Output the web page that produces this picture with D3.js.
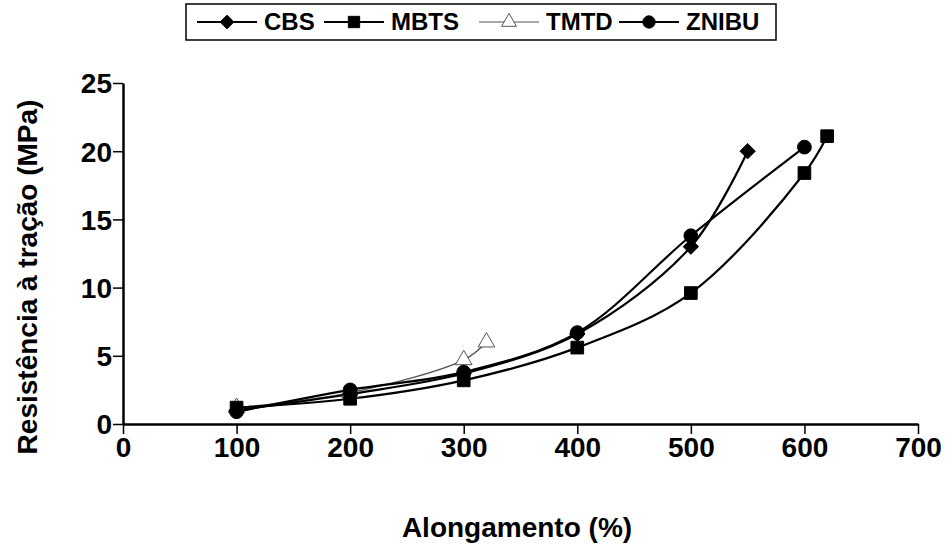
<!DOCTYPE html>
<html>
<head>
<meta charset="utf-8">
<script src="https://cdn.jsdelivr.net/npm/d3@7"></script>
<style>
  body { margin: 0; background: #fff; }
  text { font-family: "Liberation Sans", Arial, sans-serif; font-weight: bold; fill: #000; }
</style>
</head>
<body>
<div id="chart"></div>
<script>
// data
var seriesNames = ["CBS", "MBTS", "TMTD", "ZNIBU"];
var cbsX = [100, 200, 300, 400, 500, 550];
var cbsY = [1.0, 2.2, 3.7, 6.6, 13.0, 20.0];
var mbtsX = [100, 200, 300, 400, 500, 600, 620];
var mbtsY = [1.2, 1.85, 3.2, 5.6, 9.6, 18.4, 21.1];
var tmtdX = [100, 200, 300, 320];
var tmtdY = [1.2, 2.3, 4.7, 6.0];
var znibuX = [100, 200, 300, 400, 500, 600];
var znibuY = [0.9, 2.5, 3.8, 6.7, 13.8, 20.3];
var xTicks = [0, 100, 200, 300, 400, 500, 600, 700];
var yTicks = [0, 5, 10, 15, 20, 25];

function zip(xs, ys) { return xs.map(function(x, i) { return {x: x, y: ys[i]}; }); }

var series = [
  {name: seriesNames[0], pts: zip(cbsX, cbsY), sym: d3.symbolDiamond2, size: 150, fill: "#000", lw: 2.2, stroke: "#000"},
  {name: seriesNames[1], pts: zip(mbtsX, mbtsY), sym: d3.symbolSquare, size: 160, fill: "#000", lw: 2.2, stroke: "#000"},
  {name: seriesNames[2], pts: zip(tmtdX, tmtdY), sym: d3.symbolTriangle, size: 120, fill: "#fff", lw: 1.4, stroke: "#555"},
  {name: seriesNames[3], pts: zip(znibuX, znibuY), sym: d3.symbolCircle, size: 150, fill: "#000", lw: 2.2, stroke: "#000"}
];

var W = 949, H = 555;
var margin = {top: 83, right: 31, bottom: 131, left: 123};
var width = W - margin.left - margin.right,
    height = H - margin.top - margin.bottom;

var svg = d3.select("#chart").append("svg")
  .attr("width", W).attr("height", H);

var g = svg.append("g")
  .attr("transform", "translate(" + margin.left + "," + margin.top + ")");

var x = d3.scaleLinear().domain([0, 700]).range([0, width]);
var y = d3.scaleLinear().domain([0, 25]).range([height, 0]);

var xAxis = g.append("g")
  .attr("transform", "translate(0," + height + ")")
  .call(d3.axisBottom(x).tickValues(xTicks).tickSize(10).tickSizeOuter(0));
var yAxis = g.append("g")
  .call(d3.axisLeft(y).tickValues(yTicks).tickSize(10).tickSizeOuter(0));

[xAxis, yAxis].forEach(function(a) {
  a.attr("font-size", null).attr("font-family", null);
  a.select(".domain").attr("stroke", "#000").attr("stroke-width", 2.5);
  a.selectAll(".tick line").attr("stroke", "#000").attr("stroke-width", 1.5);
  a.selectAll(".tick text").attr("fill", "#000").style("font-size", "28px");
});
xAxis.selectAll(".tick text").attr("y", 13).attr("dy", "0.71em");
yAxis.selectAll(".tick text").attr("x", -11).attr("dy", "0.35em");

var line = d3.line()
  .x(function(d) { return x(d.x); })
  .y(function(d) { return y(d.y); })
  .curve(d3.curveCatmullRom.alpha(0.5));

var order = [2, 0, 3, 1];
order.forEach(function(i) {
  var s = series[i];
  g.append("path")
    .datum(s.pts)
    .attr("fill", "none")
    .attr("stroke", s.stroke)
    .attr("stroke-width", s.lw)
    .attr("d", line);
});
order.forEach(function(i) {
  var s = series[i];
  g.selectAll(".m" + i)
    .data(s.pts)
    .enter().append("path")
    .attr("class", "m" + i)
    .attr("transform", function(d) { return "translate(" + x(d.x) + "," + y(d.y) + ")"; })
    .attr("d", d3.symbol().type(s.sym).size(s.size))
    .attr("fill", s.fill)
    .attr("stroke", s.stroke)
    .attr("stroke-width", 1);
});

// axis titles
svg.append("text")
  .attr("x", 517).attr("y", 537)
  .attr("text-anchor", "middle")
  .style("font-size", "28px")
  .text("Alongamento (%)");
svg.append("text")
  .attr("transform", "translate(37,277) rotate(-90)")
  .attr("text-anchor", "middle")
  .style("font-size", "28px")
  .text("Resistência à tração (MPa)");

// legend
var lg = svg.append("g");
lg.append("rect")
  .attr("x", 186).attr("y", 4).attr("width", 590).attr("height", 36)
  .attr("fill", "#fff").attr("stroke", "#000").attr("stroke-width", 1.5);
var legX = [197, 324, 479, 619];
series.forEach(function(s, i) {
  var lx = legX[i];
  lg.append("line")
    .attr("x1", lx).attr("x2", lx + 60).attr("y1", 22).attr("y2", 22)
    .attr("stroke", s.stroke).attr("stroke-width", s.name === "TMTD" ? 1.2 : 1.8);
  lg.append("path")
    .attr("transform", "translate(" + (lx + 30) + ",22)")
    .attr("d", d3.symbol().type(s.sym).size(s.size * 0.8))
    .attr("fill", s.fill).attr("stroke", s.stroke);
  lg.append("text")
    .attr("x", lx + 67).attr("y", 30)
    .style("font-size", "24px")
    .text(s.name);
});
</script>
</body>
</html>
